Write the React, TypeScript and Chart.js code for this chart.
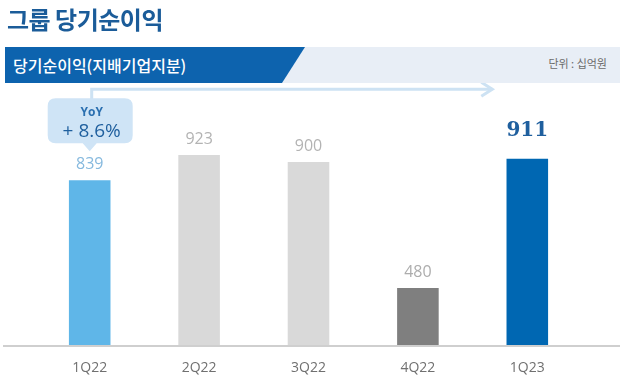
import React, { useEffect, useRef } from "react";
import { Chart, registerables } from "chart.js";

Chart.register(...registerables);

const categories = ["1Q22", "2Q22", "3Q22", "4Q22", "1Q23"];
const netIncome = [839, 923, 900, 480, 911];
const barColors = ["#5fb6e8", "#d9d9d9", "#d9d9d9", "#7f7f7f", "#0067b2"];
const labelColors = ["#86b9de", "#b3b3b3", "#b3b3b3", "#adadad", "#1f5f9e"];
const yoyLabel = "YoY";
const yoyValue = "+ 8.6%";
const titleText = "그룹 당기순이익";
const subtitleText = "당기순이익(지배기업지분)";
const unitText = "단위 : 십억원";
const yMin = 290;
const yMax = 1100;

const overlayPlugin = {
  id: "overlay",
  afterDatasetsDraw(chart: any) {
    const ctx = chart.ctx as CanvasRenderingContext2D;
    const meta = chart.getDatasetMeta(0);
    const area = chart.chartArea;
    ctx.save();
    // baseline
    ctx.strokeStyle = "#cfcfcf";
    ctx.lineWidth = 2;
    ctx.beginPath();
    ctx.moveTo(3, area.bottom + 1);
    ctx.lineTo(620, area.bottom + 1);
    ctx.stroke();

    // value labels
    meta.data.forEach((bar: any, i: number) => {
      const last = i === meta.data.length - 1;
      ctx.font = last ? "bold 20px 'DejaVu Serif'" : "16px 'Open Sans'";
      ctx.fillStyle = labelColors[i];
      ctx.textAlign = "center";
      ctx.textBaseline = "middle";
      ctx.fillText(String(netIncome[i]), bar.x, bar.y - (last ? 28 : 16));
    });

    // callout + arrow
    const first = meta.data[0];
    const lastBar = meta.data[meta.data.length - 1];
    const labelY = first.y - 16;
    const tipY = labelY - 13;
    const bBottom = tipY - 8;
    const bTop = bBottom - 45;
    const bLeft = first.x - 42;
    const bRight = first.x + 43;
    const lineY = Math.min(105, bTop - 9);
    const arrowX = lastBar.x - 35;

    ctx.strokeStyle = "#cde2f3";
    ctx.lineWidth = 3;
    ctx.lineJoin = "miter";
    ctx.beginPath();
    ctx.moveTo(first.x + 2, bTop + 2);
    ctx.lineTo(first.x + 2, lineY);
    ctx.lineTo(arrowX, lineY);
    ctx.stroke();
    ctx.beginPath();
    ctx.moveTo(arrowX - 11, lineY - 7);
    ctx.lineTo(arrowX, lineY);
    ctx.lineTo(arrowX - 11, lineY + 7);
    ctx.stroke();

    // bubble
    const r = 8;
    ctx.fillStyle = "#cfe4f6";
    ctx.beginPath();
    ctx.moveTo(bLeft + r, bTop);
    ctx.lineTo(bRight - r, bTop);
    ctx.quadraticCurveTo(bRight, bTop, bRight, bTop + r);
    ctx.lineTo(bRight, bBottom - r);
    ctx.quadraticCurveTo(bRight, bBottom, bRight - r, bBottom);
    ctx.lineTo(first.x + 7, bBottom);
    ctx.lineTo(first.x, tipY);
    ctx.lineTo(first.x - 7, bBottom);
    ctx.lineTo(bLeft + r, bBottom);
    ctx.quadraticCurveTo(bLeft, bBottom, bLeft, bBottom - r);
    ctx.lineTo(bLeft, bTop + r);
    ctx.quadraticCurveTo(bLeft, bTop, bLeft + r, bTop);
    ctx.closePath();
    ctx.fill();

    ctx.textAlign = "center";
    ctx.textBaseline = "middle";
    ctx.fillStyle = "#2a6fb0";
    ctx.font = "bold 12px 'Open Sans'";
    ctx.fillText(yoyLabel, first.x + 2, bTop + 14);
    ctx.fillStyle = "#1f5f9e";
    ctx.font = "19px 'Open Sans'";
    ctx.fillText(yoyValue, first.x + 2, bTop + 33);
    ctx.restore();
  },
};

export default function App() {
  const canvasRef = useRef<HTMLCanvasElement | null>(null);

  useEffect(() => {
    if (!canvasRef.current) return;
    const chart = new Chart(canvasRef.current, {
      type: "bar",
      data: {
        labels: categories,
        datasets: [
          {
            data: netIncome,
            backgroundColor: barColors,
            borderWidth: 0,
            barPercentage: 0.38,
            categoryPercentage: 1,
          },
        ],
      },
      options: {
        responsive: false,
        animation: false,
        devicePixelRatio: 1,
        layout: { padding: { left: 35, right: 48, top: 102, bottom: 6 } },
        plugins: { legend: { display: false }, tooltip: { enabled: false } },
        scales: {
          x: {
            grid: { display: false, drawTicks: false },
            border: { display: false },
            afterFit: (scale: any) => {
              scale.height = 32;
            },
            ticks: {
              padding: 15,
              color: "#707070",
              font: { family: "'Open Sans'", size: 14 },
            },
          },
          y: { display: false, min: yMin, max: yMax },
        },
      },
      plugins: [overlayPlugin],
    });
    return () => chart.destroy();
  }, []);

  return (
    <div
      style={{
        position: "fixed",
        left: 0,
        top: 0,
        width: 630,
        height: 383,
        background: "#ffffff",
        overflow: "hidden",
      }}
    >
      <canvas
        ref={canvasRef}
        width={630}
        height={383}
        style={{ position: "absolute", left: 0, top: 0, width: 630, height: 383 }}
      />
      <div
        style={{
          position: "absolute",
          left: 7,
          top: 5,
          fontFamily: "'Noto Sans CJK KR'",
          fontWeight: 700,
          fontSize: 24,
          lineHeight: "28px",
          color: "#1b5c99",
          letterSpacing: -0.5,
          whiteSpace: "nowrap",
        }}
      >
        {titleText}
      </div>
      <div
        style={{
          position: "absolute",
          left: 5,
          top: 47,
          width: 615,
          height: 36,
          background: "#e8eef6",
        }}
      />
      <div
        style={{
          position: "absolute",
          left: 5,
          top: 47,
          width: 300,
          height: 36,
          background: "#0d63ae",
          clipPath: "polygon(0 0, 300px 0, 277px 36px, 0 36px)",
        }}
      />
      <div
        style={{
          position: "absolute",
          left: 13,
          top: 47,
          height: 36,
          lineHeight: "36px",
          fontFamily: "'Noto Sans CJK KR'",
          fontWeight: 500,
          fontSize: 16,
          color: "#ffffff",
          whiteSpace: "nowrap",
        }}
      >
        {subtitleText}
      </div>
      <div
        style={{
          position: "absolute",
          right: 23,
          top: 47,
          height: 32,
          lineHeight: "32px",
          fontFamily: "'Noto Sans CJK KR'",
          fontSize: 11,
          color: "#6b6b6b",
          whiteSpace: "nowrap",
        }}
      >
        {unitText}
      </div>
    </div>
  );
}
